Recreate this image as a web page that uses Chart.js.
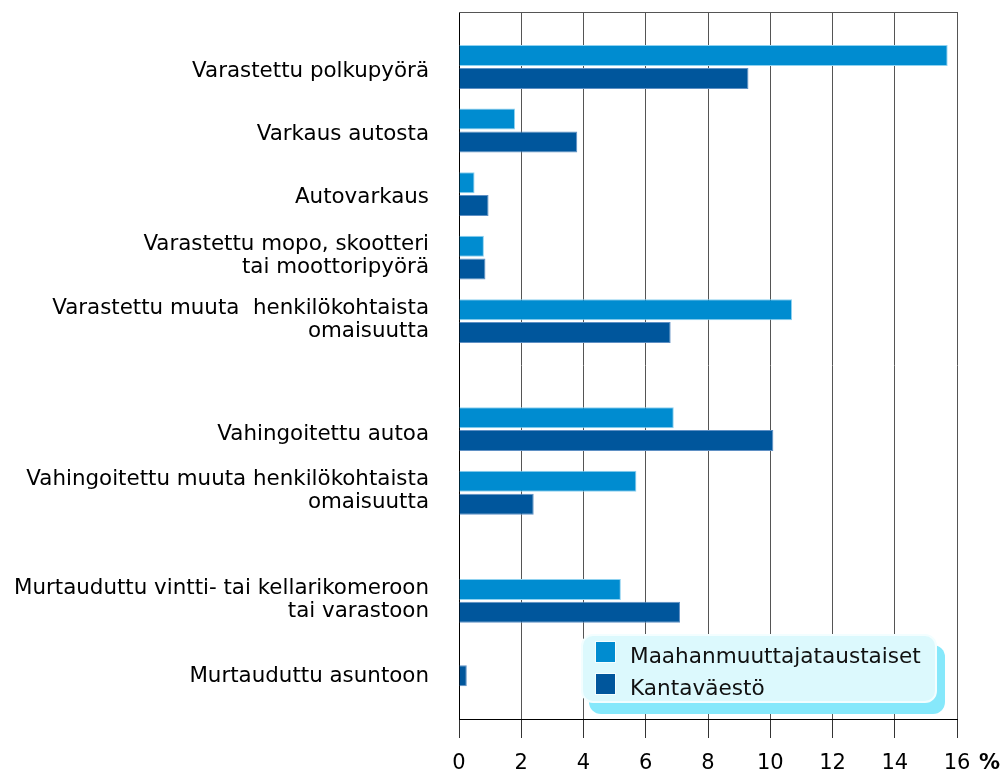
<!DOCTYPE html>
<html>
<head>
<meta charset="utf-8">
<script src="https://cdn.jsdelivr.net/npm/chart.js@4.4.1/dist/chart.umd.min.js"></script>
<style>
  html, body { margin: 0; padding: 0; background: #fff; }
  #wrap { position: relative; width: 1006px; height: 772px; }
  #legend {
    position: absolute; left: 581px; top: 634px; width: 352px; height: 65px;
    background: #dcf9fd; border: 2px solid #f3feff; border-radius: 12px;
    box-shadow: 8px 11px 0 #86e8fb;
    font-family: "DejaVu Sans", Verdana, sans-serif; font-size: 21.6px; color: #111;
  }
  #legend .item { position: absolute; left: 12px; height: 22px; display: flex; align-items: center; }
  #legend .sw { width: 21px; height: 22px; border: 1px solid #f3feff; margin-right: 14px; box-sizing: border-box; }
  #legend .tx { position: relative; top: 3px; }
</style>
</head>
<body>
<div id="wrap">
  <canvas id="c" width="1006" height="772"></canvas>
  <div id="legend"></div>
</div>
<script>
// ---- data ----
const categories = [
  "Varastettu polkupyörä",
  "Varkaus autosta",
  "Autovarkaus",
  ["Varastettu mopo, skootteri", "tai moottoripyörä"],
  ["Varastettu muuta  henkilökohtaista", "omaisuutta"],
  "Vahingoitettu autoa",
  ["Vahingoitettu muuta henkilökohtaista", "omaisuutta"],
  ["Murtauduttu vintti- tai kellarikomeroon", "tai varastoon"],
  "Murtauduttu asuntoon"
];
const seriesNames = ["Maahanmuuttajataustaiset", "Kantaväestö"];
const immigrantValues = [15.7, 1.8, 0.5, 0.8, 10.7, 6.9, 5.7, 5.2, null];
const nativeValues    = [9.3, 3.8, 0.95, 0.85, 6.8, 10.1, 2.4, 7.1, 0.25];
const xTicks = [0, 2, 4, 6, 8, 10, 12, 14, 16];

// ---- layout (row positions along the category axis, uneven spacing as in the original) ----
const rowPositions   = [0, 1, 2, 3, 4, 5.7, 6.7, 8.4, 9.4];
const labelPositions = [0.077, 1.06, 2.06, 2.975, 3.975, 5.777, 6.675, 8.385, 9.595];
const colors = ["#008cd0", "#00569c"];
const borders = ["#8fd2f0", "#5f90c4"];
const FONT = '"DejaVu Sans", Verdana, sans-serif';

const datasets = [immigrantValues, nativeValues].map((vals, s) => ({
  label: seriesNames[s],
  data: vals.map((v, i) => ({ x: v, y: rowPositions[i] })),
  backgroundColor: colors[s],
  borderColor: borders[s],
  borderWidth: 1,
  categoryPercentage: 0.80,
  barPercentage: 0.92
}));

const extras = {
  id: 'extras',
  afterDraw(chart) {
    const { ctx, chartArea, scales } = chart;
    ctx.save();
    ctx.strokeStyle = '#555';
    ctx.lineWidth = 1;
    ctx.beginPath();
    ctx.moveTo(chartArea.left, chartArea.top + 0.5);
    ctx.lineTo(chartArea.right, chartArea.top + 0.5);
    ctx.stroke();
    const xs = scales.x;
    ctx.font = 'bold 21px ' + FONT;
    ctx.fillStyle = '#000';
    ctx.textAlign = 'left';
    ctx.textBaseline = 'middle';
    ctx.fillText('%', xs.getPixelForValue(16) + 22, xs.top + 19 + 13 + 12.6);
    ctx.restore();
  }
};

new Chart(document.getElementById('c'), {
  type: 'bar',
  data: { datasets },
  options: {
    indexAxis: 'y',
    responsive: false,
    devicePixelRatio: 1,
    animation: false,
    layout: { padding: { left: 0, right: 49, top: 12, bottom: 0 } },
    plugins: { legend: { display: false }, tooltip: { enabled: false } },
    scales: {
      x: {
        type: 'linear',
        min: 0, max: 16,
        afterBuildTicks: (axis) => { axis.ticks = xTicks.map(v => ({ value: v })); },
        afterFit: (axis) => { axis.height = 53; },
        grid: { color: '#555', lineWidth: 1, tickLength: 19, tickColor: '#333' },
        border: { display: true, color: '#000', width: 1 },
        ticks: { padding: 13, color: '#000', font: { family: FONT, size: 21, lineHeight: 1.2 } }
      },
      y: {
        type: 'linear',
        reverse: true,
        offset: false,
        min: -0.865, max: 10.26,
        afterBuildTicks: (axis) => { axis.ticks = labelPositions.map(v => ({ value: v })); },
        afterFit: (axis) => { axis.width = 459; },
        grid: { display: false, drawTicks: true, tickLength: 30, offset: false },
        border: { display: true, color: '#000', width: 1 },
        ticks: {
          padding: 0,
          color: '#000',
          font: { family: FONT, size: 21.4, lineHeight: 1.08 },
          callback: (value, index) => categories[index]
        }
      }
    }
  },
  plugins: [extras]
});

const lg = document.getElementById('legend');
seriesNames.forEach((name, s) => {
  const it = document.createElement('div');
  it.className = 'item';
  it.style.top = (5 + s * 32) + 'px';
  const sw = document.createElement('span');
  sw.className = 'sw';
  sw.style.background = colors[s];
  const tx = document.createElement('span');
  tx.className = 'tx';
  tx.textContent = name;
  it.appendChild(sw); it.appendChild(tx);
  lg.appendChild(it);
});
</script>
</body>
</html>
